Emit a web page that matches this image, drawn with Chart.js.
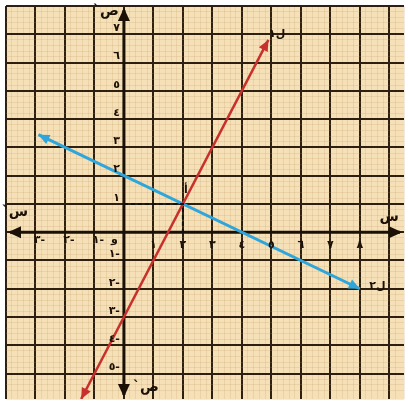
<!DOCTYPE html>
<html><head><meta charset="utf-8">
<script src="https://cdn.jsdelivr.net/npm/chart.js@4"></script>
<style>html,body{margin:0;background:#fff}#wrap{width:408px;height:402px}</style>
</head><body><div id="wrap"><canvas id="c"></canvas></div>
<script>
// ل١ : ص = ٢س - ٣ ,  ل٢ : ص = -٠٫٥س + ٢
const line1 = [{x:-1.45,y:-5.9},{x:4.9,y:6.8}];
const line2 = [{x:-2.9,y:3.45},{x:8,y:-2}];
const guide = [{x:0,y:1},{x:2,y:1},{x:2,y:0}];
const xTicks = [-3,-2,-1,1,2,3,4,5,6,7,8];
const yTicks = [-5,-4,-3,-2,-1,1,2,3,4,5,6,7];

const digits = '٠١٢٣٤٥٦٧٨٩';
function ar(n) {
  const s = String(Math.abs(n)).replace(/\d/g, d => digits[d]);
  return n < 0 ? s + '-' : s;
}
const isInt = v => Math.abs(v - Math.round(v)) < 1e-6;
const gridColor = c => (c.tick && isInt(c.tick.value)) ? '#2e2010' : 'rgba(190,150,95,0.2)';
const gridWidth = c => (c.tick && isInt(c.tick.value)) ? 2 : 1;

function arrow(ctx, x0, y0, x1, y1, len, half, color) {
  const a = Math.atan2(y1 - y0, x1 - x0);
  ctx.save();
  ctx.fillStyle = color;
  ctx.beginPath();
  ctx.moveTo(x1, y1);
  ctx.lineTo(x1 - len * Math.cos(a) + half * Math.sin(a), y1 - len * Math.sin(a) - half * Math.cos(a));
  ctx.lineTo(x1 - len * Math.cos(a) - half * Math.sin(a), y1 - len * Math.sin(a) + half * Math.cos(a));
  ctx.closePath();
  ctx.fill();
  ctx.restore();
}

const paper = {
  id: 'paper',
  beforeDraw(chart) {
    const {ctx, chartArea: a} = chart;
    ctx.save();
    ctx.fillStyle = '#f6e0b8';
    ctx.fillRect(a.left, a.top, a.right - a.left, a.bottom - a.top);
    ctx.restore();
  },
  beforeDatasetsDraw(chart) {
    const {ctx, chartArea: a, scales: {x, y}} = chart;
    const ox = x.getPixelForValue(0), oy = y.getPixelForValue(0);
    ctx.save();
    ctx.strokeStyle = '#1a1006';
    ctx.lineWidth = 3;
    ctx.beginPath();
    ctx.moveTo(a.left + 4, oy); ctx.lineTo(a.right - 4, oy);
    ctx.moveTo(ox, a.top + 4); ctx.lineTo(ox, a.bottom - 4);
    ctx.stroke();
    arrow(ctx, ox + 10, oy, a.left + 2, oy, 13, 6, '#1a1006');
    arrow(ctx, ox, oy, a.right - 2, oy, 13, 6, '#1a1006');
    arrow(ctx, ox, oy, ox, a.top + 2, 13, 6, '#1a1006');
    arrow(ctx, ox, oy, ox, a.bottom - 2, 13, 6, '#1a1006');
    ctx.restore();
  },
  afterDatasetsDraw(chart) {
    const {ctx, scales: {x, y}} = chart;
    const ox = x.getPixelForValue(0), oy = y.getPixelForValue(0);
    chart.data.datasets.forEach((ds, i) => {
      if (!ds.arrows) return;
      const p = chart.getDatasetMeta(i).data;
      const n = p.length;
      arrow(ctx, p[1].x, p[1].y, p[0].x, p[0].y, 11, 5, ds.borderColor);
      arrow(ctx, p[n - 2].x, p[n - 2].y, p[n - 1].x, p[n - 1].y, 11, 5, ds.borderColor);
    });
    ctx.save();
    ctx.fillStyle = '#1a1006';
    ctx.font = 'bold 11px "DejaVu Sans"';
    ctx.textAlign = 'center';
    ctx.textBaseline = 'middle';
    xTicks.forEach(v => {
      const px = x.getPixelForValue(v);
      if (v < 0) ctx.fillText(ar(v), px + 4, oy + 8);
      else ctx.fillText(ar(v), px, oy + 13);
    });
    ctx.textAlign = 'right';
    yTicks.forEach(v => {
      ctx.fillText(ar(v), ox - 4, y.getPixelForValue(v) - 6);
    });
    ctx.fillText('و', ox - 6, oy + 8);
    ctx.font = 'bold 14px "DejaVu Sans"';
    ctx.textAlign = 'center';
    ctx.fillText('س', x.getPixelForValue(9), oy - 15);
    ctx.fillText('`س', 15, y.getPixelForValue(0.7));
    ctx.fillText('`ص', ox - 18, y.getPixelForValue(7.8));
    ctx.fillText('`ص', ox + 22, y.getPixelForValue(-5.5));
    ctx.font = 'bold 11px "DejaVu Sans"';
    ctx.fillText('أ', x.getPixelForValue(2.1), y.getPixelForValue(1.5));
    ctx.fillText('ل١', x.getPixelForValue(5.2), y.getPixelForValue(7));
    ctx.fillText('ل٢', x.getPixelForValue(8.6), y.getPixelForValue(-1.9));
    ctx.restore();
  }
};

new Chart(document.getElementById('c'), {
  type: 'scatter',
  data: {
    datasets: [
      {label: 'guide', data: guide, showLine: true, borderColor: '#111', borderWidth: 2, borderDash: [4, 3], pointRadius: 0},
      {label: 'ل١', data: line1, showLine: true, borderColor: '#c8302c', borderWidth: 2.5, pointRadius: 0, arrows: true},
      {label: 'ل٢', data: line2, showLine: true, borderColor: '#2ea6dc', borderWidth: 3, pointRadius: 0, arrows: true}
    ]
  },
  options: {
    animation: false,
    responsive: true,
    maintainAspectRatio: false,
    layout: {padding: {left: 6, top: 6, right: 4, bottom: 3}},
    plugins: {legend: {display: false}, tooltip: {enabled: false}},
    scales: {
      x: {type: 'linear', min: -4, max: 9.5,
        ticks: {stepSize: 0.2, display: false, maxTicksLimit: 200},
        grid: {drawTicks: false, color: gridColor, lineWidth: gridWidth},
        border: {display: false}},
      y: {type: 'linear', min: -5.9, max: 8,
        ticks: {stepSize: 0.2, display: false, maxTicksLimit: 200},
        grid: {drawTicks: false, color: gridColor, lineWidth: gridWidth},
        border: {display: false}}
    }
  },
  plugins: [paper]
});
</script>
</body></html>
